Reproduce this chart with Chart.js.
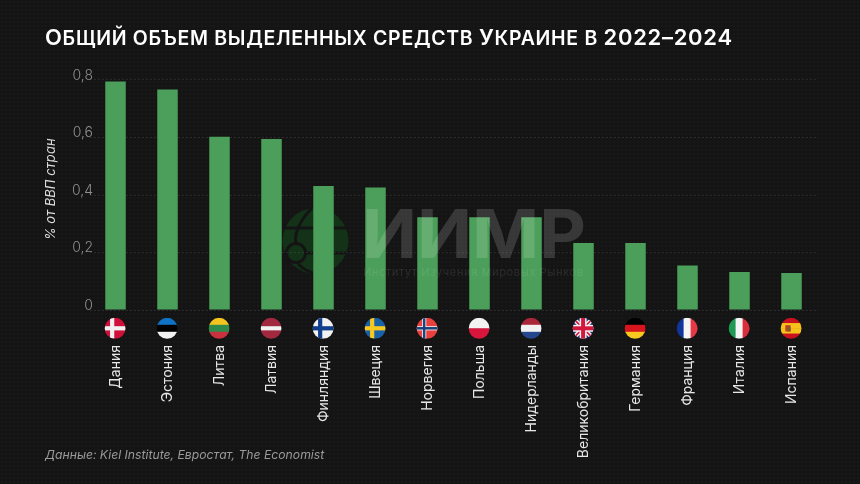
<!DOCTYPE html>
<html lang="ru"><head><meta charset="utf-8">
<script src="https://cdn.jsdelivr.net/npm/chart.js@4"></script>
<style>
html,body{margin:0;padding:0;width:860px;height:484px;overflow:hidden;background:#141414}
#wrap{position:relative;width:860px;height:484px;background-color:#141414;
 background-image:radial-gradient(rgba(255,255,255,.018) .7px,transparent .8px);background-size:4px 4px}
canvas{position:absolute;left:0;top:0}
#title{position:absolute;left:45px;top:24px;font:600 19.5px Inter,sans-serif;color:#fff;white-space:nowrap;letter-spacing:.7px;text-transform:uppercase;line-height:26px}
#title b{font-weight:600;font-size:22px}
#source{position:absolute;left:45px;top:447px;font:italic 400 12.2px Inter,sans-serif;color:#9a9a9a;white-space:nowrap}
#mark,#globe{position:absolute;left:0;top:0;pointer-events:none}
</style></head><body>
<div id="wrap">
<svg id="globe" width="860" height="484" xmlns="http://www.w3.org/2000/svg">
 <circle cx="315.5" cy="241" r="33" fill="#133217"/>
 <g fill="none" stroke="#141414" stroke-width="3">
  <path d="M282 228H349M306 253H349"/>
  <path d="M312 208C298 222 294 236 296 243M298 264C304 270 310 273 318 274"/>
  <circle cx="296" cy="253" r="9.5"/>
 </g>
</svg>
<canvas id="c" width="860" height="484"></canvas>
<svg id="mark" width="860" height="484" xmlns="http://www.w3.org/2000/svg">
 <text x="362" y="258" font-family="Inter,sans-serif" font-weight="700" font-size="68" textLength="224" lengthAdjust="spacingAndGlyphs" fill="#fff" fill-opacity=".15">ИИМР</text>
 <text x="363" y="276" font-family="Inter,sans-serif" font-size="11" textLength="220" fill="#fff" fill-opacity=".09">Институт Изучения Мировых Рынков</text>
</svg>
<div id="title"><b>О</b>бщий объем выделенных средств <b>У</b>краине в <b>2022–2024</b></div>
<div id="source">Данные: Kiel Institute, Евростат, The Economist</div>
</div>
<script>
const categories = ["Дания","Эстония","Литва","Латвия","Финляндия","Швеция","Норвегия","Польша","Нидерланды","Великобритания","Германия","Франция","Италия","Испания"];
const values = [0.795,0.767,0.603,0.595,0.431,0.426,0.323,0.323,0.323,0.233,0.233,0.155,0.132,0.129];
const flagCodes = ["dk","ee","lt","lv","fi","se","no","pl","nl","gb","de","fr","it","es"];
const yAxisTitle = "% от ВВП стран";

function hBands(ctx,x,y,r,cols){const h=2*r/cols.length;cols.forEach((c,i)=>{ctx.fillStyle=c;ctx.fillRect(x-r,y-r+i*h,2*r,h+.5)})}
function vBands(ctx,x,y,r,cols){const w=2*r/cols.length;cols.forEach((c,i)=>{ctx.fillStyle=c;ctx.fillRect(x-r+i*w,y-r,w+.5,2*r)})}
function nordic(ctx,x,y,r,bg,cross,inner){ctx.fillStyle=bg;ctx.fillRect(x-r,y-r,2*r,2*r);const cx=x-r*.28;
 ctx.fillStyle=cross;ctx.fillRect(x-r,y-r*.2,2*r,r*.4);ctx.fillRect(cx-r*.2,y-r,r*.4,2*r);
 if(inner){ctx.fillStyle=inner;ctx.fillRect(x-r,y-r*.1,2*r,r*.2);ctx.fillRect(cx-r*.1,y-r,r*.2,2*r)}}
const painters={
 dk:(c,x,y,r)=>nordic(c,x,y,r,"#d0103a","#f0f0f0"),
 ee:(c,x,y,r)=>hBands(c,x,y,r,["#0f72c4","#000000","#f2f2f2"]),
 lt:(c,x,y,r)=>hBands(c,x,y,r,["#f4c51f","#2f8a4c","#c8313e"]),
 lv:(c,x,y,r)=>hBands(c,x,y,r,["#a2283f","#a2283f","#f2f2f2","#a2283f","#a2283f"]),
 fi:(c,x,y,r)=>nordic(c,x,y,r,"#f2f2f2","#0f3f8c"),
 se:(c,x,y,r)=>nordic(c,x,y,r,"#1a62a8","#f7c81e"),
 no:(c,x,y,r)=>{nordic(c,x,y,r,"#e8403f","#f2f2f2");c.fillStyle="#1d3f7c";c.fillRect(x-r,y-r*.12,2*r,r*.24);c.fillRect(x-r*.28-r*.12,y-r,r*.24,2*r)},
 pl:(c,x,y,r)=>hBands(c,x,y,r,["#f2f2f2","#d8153c"]),
 nl:(c,x,y,r)=>hBands(c,x,y,r,["#ab2639","#f2f2f2","#25478e"]),
 gb:(c,x,y,r)=>{c.fillStyle="#1d3272";c.fillRect(x-r,y-r,2*r,2*r);
   c.strokeStyle="#f2f2f2";c.lineWidth=r*.42;c.beginPath();c.moveTo(x-r,y-r);c.lineTo(x+r,y+r);c.moveTo(x+r,y-r);c.lineTo(x-r,y+r);c.stroke();
   c.strokeStyle="#d4173c";c.lineWidth=r*.16;c.beginPath();c.moveTo(x-r,y-r);c.lineTo(x+r,y+r);c.moveTo(x+r,y-r);c.lineTo(x-r,y+r);c.stroke();
   c.fillStyle="#f2f2f2";c.fillRect(x-r,y-r*.33,2*r,r*.66);c.fillRect(x-r*.33,y-r,r*.66,2*r);
   c.fillStyle="#d4173c";c.fillRect(x-r,y-r*.19,2*r,r*.38);c.fillRect(x-r*.19,y-r,r*.38,2*r)},
 de:(c,x,y,r)=>hBands(c,x,y,r,["#000000","#d8141c","#f7c81e"]),
 fr:(c,x,y,r)=>vBands(c,x,y,r,["#12359c","#f5f5f5","#e63946"]),
 it:(c,x,y,r)=>vBands(c,x,y,r,["#1f9a55","#f5f5f5","#d92f3c"]),
 es:(c,x,y,r)=>{hBands(c,x,y,r,["#c8101e","#f7c21a","#f7c21a","#c8101e"]);c.fillStyle="#b5442a";c.fillRect(x-r*.55,y-r*.3,r*.5,r*.6);c.fillStyle="#8a5a20";c.fillRect(x-r*.35,y-r*.1,r*.3,r*.4)}
};
const flagsPlugin={id:"flags",
 beforeDraw(chart){chart.scales.y.right=93;},
 afterDraw(chart){
 const c=chart.ctx,s=chart.scales.x;
 flagCodes.forEach((code,i)=>{const x=s.getPixelForTick(i)-.4,y=328.3,r=10.5;
  c.save();c.beginPath();c.arc(x,y,r,0,Math.PI*2);c.clip();painters[code](c,x,y,r);c.restore();});
}};
const sans="Inter, sans-serif";
new Chart(document.getElementById("c"),{
 type:"bar",
 data:{labels:categories,datasets:[{data:values,backgroundColor:"#4c9f5a",borderWidth:0,categoryPercentage:1,barPercentage:0.394}]},
 plugins:[flagsPlugin],
 options:{
  responsive:false,animation:false,
  layout:{padding:{top:68.5,right:42.5,bottom:0,left:0}},
  plugins:{legend:{display:false},title:{display:false},tooltip:{enabled:false}},
  scales:{
   x:{
    afterFit(s){s.height=174},
    border:{display:false},
    grid:{display:false,drawTicks:false},
    ticks:{autoSkip:false,minRotation:90,maxRotation:90,padding:35,color:"#e6e6e6",font:{family:sans,size:14}}
   },
   y:{
    min:0,max:0.84,
    afterFit(s){s.width=89.5},
    border:{display:false,dash:[2,2]},
    grid:{color:"rgba(255,255,255,.09)",lineWidth:1,drawTicks:false},
    title:{display:true,text:yAxisTitle,color:"#dcdcdc",padding:{top:43,bottom:0},font:{family:sans,size:13,style:"italic",lineHeight:1.2}},
    ticks:{stepSize:0.2,includeBounds:false,padding:0,color:"#8f8f8f",
     font:{family:sans,size:14,weight:300,lineHeight:0.65},
     callback:v=>[v===0?"0":v.toFixed(1).replace(".",","),""]}
   }
  }
 }
});
</script>
</body></html>
